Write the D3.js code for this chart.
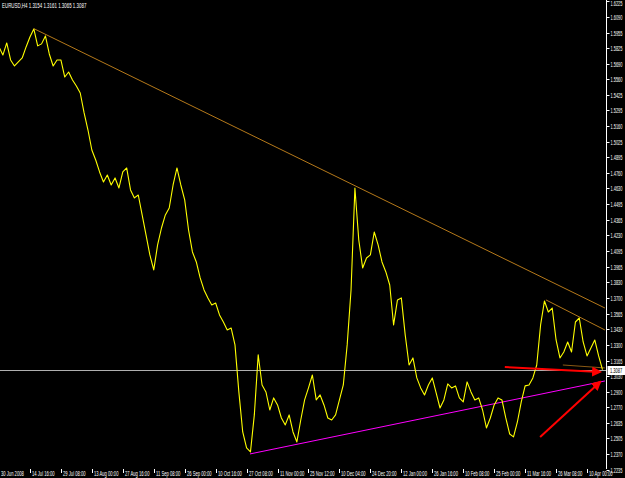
<!DOCTYPE html>
<meta charset="utf-8">
<style>
body { margin: 0; background: #000; }
svg { display: block; background: #000; }
.lbl { font-family: "Liberation Sans", Arial, sans-serif; font-size: 6.5px; fill: #fff; }
</style>
<svg width="625" height="478"></svg>
<script src="https://d3js.org/d3.v7.min.js"></script>
<script>

// header: symbol + last bar open/high/low/close
var symbol = "EURUSD,H4",
    ohlc = ["1.3154", "1.3161", "1.3065", "1.3087"],
    lastPrice = 1.3087;

var priceTicks = ["1.6225", "1.6090", "1.5955", "1.5825", "1.5690", "1.5560", "1.5425",
  "1.5295", "1.5160", "1.5025", "1.4895", "1.4760", "1.4630", "1.4495", "1.4365",
  "1.4230", "1.4095", "1.3965", "1.3830", "1.3700", "1.3565", "1.3430", "1.3300",
  "1.3165", "1.3030", "1.2900", "1.2770", "1.2635", "1.2505", "1.2370", "1.2235"];

var dateLabels = ["30 Jun 2008", "14 Jul 16:00", "29 Jul 08:00", "13 Aug 00:00", "27 Aug 16:00",
  "11 Sep 08:00", "26 Sep 00:00", "10 Oct 16:00", "27 Oct 08:00", "11 Nov 00:00",
  "25 Nov 12:00", "10 Dec 04:00", "24 Dec 20:00", "12 Jan 00:00", "26 Jan 16:00",
  "10 Feb 08:00", "25 Feb 00:00", "11 Mar 16:00", "26 Mar 08:00", "10 Apr 00:00"];

var barsPerLabel = 64,
    barStep = 8;   // one close every 8 H4 bars

var closes = [
  1.5834, 1.5765, 1.5868, 1.5723, 1.5672, 1.5706, 1.5740, 1.5834, 1.5919, 1.5987,
  1.5843, 1.5860, 1.5928, 1.5774, 1.5672, 1.5723, 1.5723, 1.5578, 1.5621, 1.5553,
  1.5502, 1.5442, 1.5272, 1.5127, 1.4957, 1.4872, 1.4770, 1.4685, 1.4744, 1.4659,
  1.4719, 1.4634, 1.4770, 1.4804, 1.4617, 1.4549, 1.4574, 1.4404, 1.4234, 1.4064,
  1.3936, 1.4149, 1.4293, 1.4404, 1.4463, 1.4659, 1.4804, 1.4659, 1.4532, 1.4276,
  1.4089, 1.4004, 1.3868, 1.3766, 1.3698, 1.3638, 1.3655, 1.3553, 1.3493, 1.3425,
  1.3442, 1.3298, 1.2898, 1.2557, 1.2421, 1.2387, 1.2702, 1.3213, 1.2957, 1.2898,
  1.2744, 1.2847, 1.2787, 1.2676, 1.2617, 1.2702, 1.2557, 1.2472, 1.2659, 1.2830,
  1.2932, 1.3042, 1.2830, 1.2872, 1.2787, 1.2676, 1.2659, 1.2702, 1.2830, 1.2957,
  1.3298, 1.3766, 1.4634, 1.4191, 1.3953, 1.4038, 1.4064, 1.4259, 1.4149, 1.4004,
  1.3919, 1.3808, 1.3468, 1.3681, 1.3698, 1.3383, 1.3127, 1.3187, 1.3017, 1.2932,
  1.2872, 1.2957, 1.3017, 1.2889, 1.2761, 1.2830, 1.2966, 1.2932, 1.2949, 1.2847,
  1.2813, 1.2983, 1.2898, 1.2830, 1.2847, 1.2744, 1.2591, 1.2676, 1.2787, 1.2847,
  1.2830, 1.2676, 1.2540, 1.2515, 1.2642, 1.2813, 1.2949, 1.2957, 1.3017, 1.3127,
  1.3468, 1.3672, 1.3578, 1.3612, 1.3340, 1.3187, 1.3238, 1.3323, 1.3238, 1.3493,
  1.3527, 1.3323, 1.3204, 1.3272, 1.3340, 1.3204, 1.3087
];

// drawn objects, [bar, price] end points
var resistance = [[72, 1.5990], [1253, 1.3612]],
    support = [[519, 1.2370], [1253, 1.2991]],
    wedgeTop = [[1131, 1.3681], [1253, 1.3425]],
    wedgeBottom = [[1166, 1.3127], [1253, 1.3102]],
    arrowFlat = [[1046, 1.3110], [1243, 1.3068]],
    arrowUp = [[1119, 1.2515], [1243, 1.2983]];

var svg = d3.select("svg"),
    width = +svg.attr("width"),
    height = +svg.attr("height");

var axisX = 606.5,
    plotBottom = 469;

var x = d3.scaleLinear()
    .domain([0, (closes.length - 1) * barStep])
    .range([-1, 602.5]);

var y = d3.scaleLinear()
    .domain([1.2235, 1.6225])
    .range([469.8, 1]);

// small squeezed terminal font
function label(g, tx, ty, sx) {
  return g.append("text")
      .attr("class", "lbl")
      .attr("transform", "translate(" + tx + "," + ty + ") scale(" + sx + ",1)");
}

svg.append("defs").append("marker")
    .attr("id", "head")
    .attr("viewBox", "0 0 10 10")
    .attr("refX", 8)
    .attr("refY", 5)
    .attr("markerWidth", 5)
    .attr("markerHeight", 5)
    .attr("orient", "auto")
  .append("path")
    .attr("d", "M0,0L10,5L0,10z")
    .attr("fill", "#ff0000");

var plot = svg.append("g");

// bid line
var yb = Math.round(y(lastPrice)) + 0.5;
plot.append("line")
    .attr("x1", 0)
    .attr("x2", axisX)
    .attr("y1", yb)
    .attr("y2", yb)
    .attr("stroke", "#b0b0b0")
    .attr("stroke-width", 1);

var seg = d3.line()
    .x(function(d) { return x(d[0]); })
    .y(function(d) { return y(d[1]); });

function drawLine(pts, color, w) {
  return plot.append("path")
      .attr("d", seg(pts))
      .attr("fill", "none")
      .attr("stroke", color)
      .attr("stroke-width", w);
}

drawLine(resistance, "#b5791a", 1);
drawLine(wedgeTop, "#b5791a", 1);
drawLine(wedgeBottom, "#8a5a14", 1);
drawLine(support, "#ff00ff", 1);

plot.append("path")
    .datum(closes)
    .attr("fill", "none")
    .attr("stroke", "#ffff00")
    .attr("stroke-width", 1.1)
    .attr("stroke-linejoin", "round")
    .attr("d", d3.line()
      .x(function(d, i) { return x(i * barStep); })
      .y(function(d) { return y(d); }));

drawLine(arrowFlat, "#ff0000", 2).attr("marker-end", "url(#head)");
drawLine(arrowUp, "#ff0000", 2).attr("marker-end", "url(#head)");

// price scale
svg.append("line")
    .attr("x1", axisX).attr("x2", axisX)
    .attr("y1", 0).attr("y2", plotBottom)
    .attr("stroke", "#fff");

priceTicks.forEach(function(d) {
  var ty = Math.round(y(+d)) + 0.5;
  svg.append("line")
      .attr("x1", axisX).attr("x2", axisX + 3)
      .attr("y1", ty).attr("y2", ty)
      .attr("stroke", "#fff");
  label(svg, 610.5, Math.max(ty, 3.5), 0.6)
      .attr("dy", "0.35em")
      .text(d);
});

// current price box
svg.append("rect")
    .attr("x", axisX + 1)
    .attr("y", yb - 4.5)
    .attr("width", width - axisX - 1)
    .attr("height", 9)
    .attr("fill", "#fff");
label(svg, 610, yb, 0.62)
    .style("fill", "#000")
    .attr("dy", "0.35em")
    .text(lastPrice.toFixed(4));

// time scale
dateLabels.forEach(function(d, i) {
  var tx = Math.round(x(i * barsPerLabel)) + 0.5;
  svg.append("line")
      .attr("x1", tx).attr("x2", tx)
      .attr("y1", plotBottom).attr("y2", plotBottom + 4)
      .attr("stroke", "#fff");
  label(svg, Math.max(tx + 1.5, 0), 476, 0.64).text(d);
});

label(svg, 2, 8, 0.68).text(symbol + "  " + ohlc.join(" "));

</script>
